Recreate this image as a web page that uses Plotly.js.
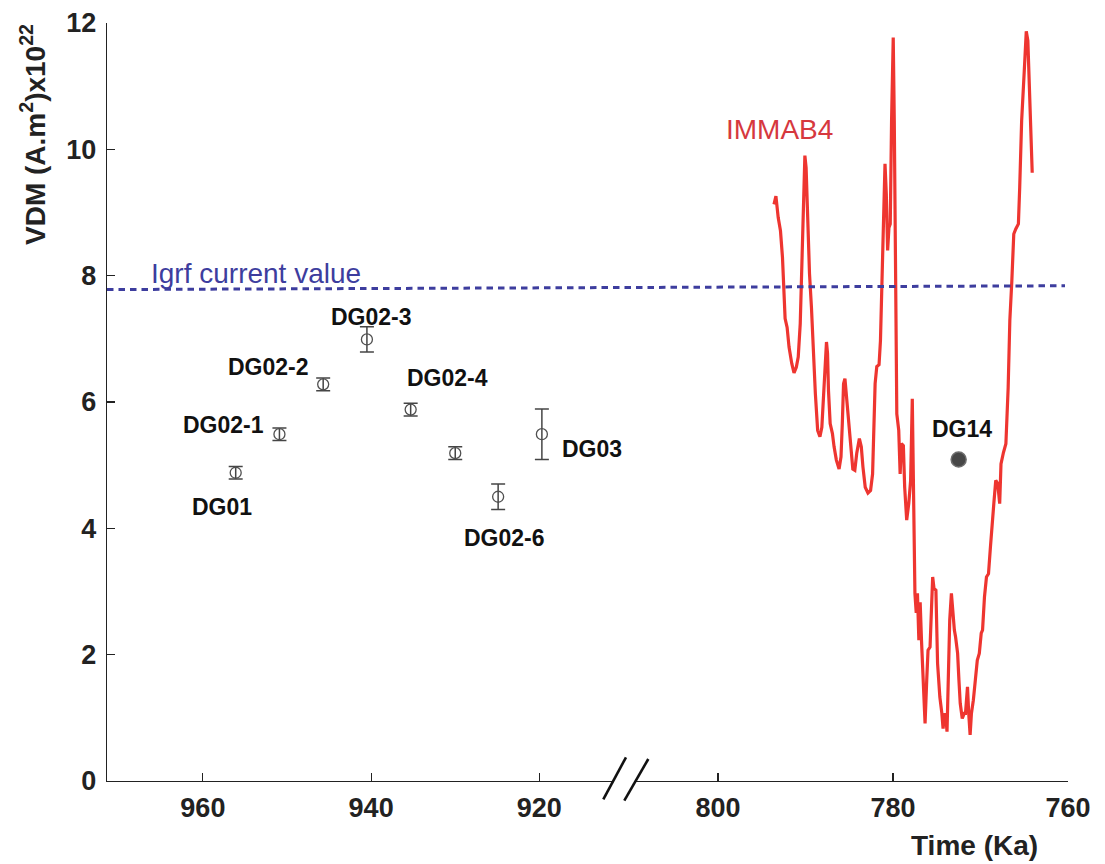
<!DOCTYPE html>
<html>
<head>
<meta charset="utf-8">
<script src="https://cdn.plot.ly/plotly-3.0.1.min.js"></script>
<style>html,body{margin:0;padding:0;background:#fff;}#chart{width:1105px;height:864px;}</style>
</head>
<body>
<div id="chart"></div>
<script>
// Paleointensity samples (left axis, 970-910 ka)
const sampleNames = ["DG01","DG02-1","DG02-2","DG02-3","DG02-4","DG02-5","DG02-6","DG03"];
const sampleAge = [956.1, 950.9, 945.7, 940.5, 935.3, 930.0, 924.9, 919.7];
const sampleVDM = [4.88, 5.49, 6.28, 6.99, 5.88, 5.19, 4.50, 5.49];
const sampleErr = [0.1, 0.1, 0.1, 0.2, 0.1, 0.1, 0.2, 0.4];

// DG14 (right axis)
const dg14Age = [772.5];
const dg14VDM = [5.09];

// IMMAB4 model curve (right axis, 810-760 ka)
const immabAge = [793.61,793.39,793.13,792.87,792.64,792.48,792.34,792.11,791.89,791.58,791.32,791.06,790.84,790.61,790.46,790.31,790.20,790.08,789.94,789.78,789.55,789.33,789.10,788.88,788.62,788.36,788.14,787.94,787.75,787.61,787.49,787.38,787.19,786.93,786.74,786.48,786.17,785.95,785.80,785.66,785.50,785.35,785.13,784.87,784.60,784.37,784.15,783.85,783.63,783.44,783.18,782.87,782.57,782.34,782.20,782.05,781.86,781.60,781.44,781.30,781.10,781.07,780.92,780.77,780.62,780.47,780.32,780.17,779.98,779.86,779.72,779.57,779.35,779.19,779.04,778.82,778.67,778.44,778.20,777.99,777.80,777.66,777.50,777.35,777.21,777.05,776.90,776.75,776.53,776.34,776.15,776.00,775.77,775.63,775.47,775.32,775.10,774.91,774.65,774.42,774.28,774.12,773.97,773.83,773.67,773.52,773.33,773.18,772.99,772.85,772.62,772.47,772.32,772.09,771.86,771.72,771.49,771.35,771.19,771.04,770.82,770.59,770.37,770.14,769.92,769.77,769.55,769.32,769.09,768.87,768.71,768.48,768.26,768.03,767.81,767.66,767.38,767.10,766.84,766.65,766.42,766.20,765.97,765.67,765.52,765.30,765.00,764.77,764.59,764.39,764.09];
const immabVDM = [9.13,9.26,8.92,8.71,8.29,7.82,7.32,7.18,6.87,6.61,6.46,6.55,6.71,7.24,8.03,9.08,9.71,9.90,9.71,8.82,8.03,7.50,6.71,6.13,5.55,5.45,5.60,6.13,6.71,6.95,6.77,6.18,5.66,5.50,5.29,5.08,4.94,5.13,5.66,6.29,6.37,6.13,5.66,5.23,4.94,4.92,5.19,5.42,5.29,4.97,4.65,4.56,4.60,4.86,5.66,6.29,6.56,6.59,6.97,7.76,8.55,8.98,9.77,9.29,8.40,8.76,8.82,10.45,11.77,10.45,8.34,5.81,5.55,4.86,5.34,5.31,4.65,4.13,4.40,4.76,6.05,4.76,2.97,2.66,2.97,2.23,2.83,2.23,1.33,0.91,1.60,2.07,2.12,2.65,3.23,3.05,3.02,1.86,1.33,1.07,0.83,1.07,1.02,0.78,1.60,2.55,2.97,2.65,2.39,2.28,2.02,1.60,1.23,0.99,1.07,1.07,1.49,1.07,0.73,1.07,1.28,1.60,1.91,2.02,2.34,2.39,2.91,3.23,3.28,3.70,4.07,4.39,4.76,4.71,4.39,5.02,5.20,5.34,6.23,7.29,7.92,8.66,8.74,8.82,9.40,10.45,11.24,11.87,11.72,10.71,9.63];

// IGRF present-day value (start, end)
const igrfValue = [7.78, 7.84];

// Axis ticks
const leftTicks = [960, 940, 920];
const rightTicks = [800, 780, 760];
const yTicks = [0, 2, 4, 6, 8, 10, 12];

// Sample label placement (age, VDM)
const labelText = ["DG02-3","DG02-2","DG02-1","DG01","DG02-4","DG03","DG02-6"];
const labelAge = [940.0, 952.15, 957.6, 957.7, 930.9, 913.8, 924.2];
const labelVDM = [7.35, 6.55, 5.63, 4.34, 6.38, 5.26, 3.84];

const FONT = "Liberation Sans, Arial, Helvetica, sans-serif";

const traces = [
  {
    x: sampleAge, y: sampleVDM, xaxis: 'x', yaxis: 'y', type: 'scatter', mode: 'markers',
    text: sampleNames, hoverinfo: 'text',
    marker: {symbol: 'circle-open', size: 11, color: '#505050', line: {width: 1.3, color: '#505050'}},
    error_y: {type: 'data', array: sampleErr, visible: true, color: '#454545', thickness: 1.5, width: 7},
    showlegend: false
  },
  {
    x: immabAge, y: immabVDM, xaxis: 'x2', yaxis: 'y', type: 'scatter', mode: 'lines',
    line: {color: '#ee3530', width: 3.2}, showlegend: false
  },
  {
    x: dg14Age, y: dg14VDM, xaxis: 'x2', yaxis: 'y', type: 'scatter', mode: 'markers',
    marker: {symbol: 'circle', size: 15, color: '#474747', line: {width: 1.5, color: '#6e6e6e'}},
    showlegend: false
  }
];

const W = 1105, H = 864, L = 107, R = 37, T = 23, B = 83;
const pw = W - L - R;
const ph = H - T - B;
const px2paper = p => (p - L) / pw;
const py2paper = p => (781 - p) / ph;

const axisCommon = {
  showline: true, linecolor: '#222', linewidth: 1.3, ticks: 'inside', ticklen: 8, tickwidth: 1.2,
  tickcolor: '#222', showgrid: false, zeroline: false,
  tickfont: {family: FONT, size: 27, color: '#222', weight: 'bold'}
};

const annotations = [];
for (let i = 0; i < labelText.length; i++) {
  annotations.push({x: labelAge[i], y: labelVDM[i], xref: 'x', yref: 'y', text: labelText[i], showarrow: false,
    xanchor: 'center', yanchor: 'middle', font: {family: FONT, size: 23, color: '#111', weight: 'bold'}});
}
annotations.push({x: 772.15, y: 5.57, xref: 'x2', yref: 'y', text: 'DG14', showarrow: false,
  xanchor: 'center', yanchor: 'middle', font: {family: FONT, size: 23, color: '#111', weight: 'bold'}});
annotations.push({x: 792.95, y: 10.32, xref: 'x2', yref: 'y', text: 'IMMAB4', showarrow: false,
  xanchor: 'center', yanchor: 'middle', font: {family: FONT, size: 28, color: '#d6383e'}});
annotations.push({x: 953.7, y: 8.03, xref: 'x', yref: 'y', text: 'Igrf current value', showarrow: false,
  xanchor: 'center', yanchor: 'middle', font: {family: FONT, size: 28, color: '#3d3d9e'}});
annotations.push({x: px2paper(974), y: py2paper(845), xref: 'paper', yref: 'paper', text: 'Time (Ka)',
  showarrow: false, xanchor: 'center', yanchor: 'middle', font: {family: FONT, size: 28, color: '#222', weight: 'bold'}});
annotations.push({x: px2paper(33), y: py2paper(135), xref: 'paper', yref: 'paper',
  text: 'VDM (A.m<sup>2</sup>)x10<sup>22</sup>', textangle: -90, showarrow: false,
  xanchor: 'center', yanchor: 'middle', font: {family: FONT, size: 28, color: '#222', weight: 'bold'}});

const shapes = [
  {type: 'line', xref: 'paper', yref: 'y', x0: 0, x1: px2paper(1065), y0: igrfValue[0], y1: igrfValue[1],
   line: {color: '#3d3d9e', width: 3, dash: '6.5px,5px'}},
  // axis break marks
  {type: 'line', xref: 'paper', yref: 'paper', x0: px2paper(603.3), x1: px2paper(626), y0: py2paper(799.3), y1: py2paper(757.3),
   line: {color: '#111', width: 2.6}},
  {type: 'line', xref: 'paper', yref: 'paper', x0: px2paper(624.3), x1: px2paper(648.3), y0: py2paper(800.7), y1: py2paper(759),
   line: {color: '#111', width: 2.6}}
];

const layout = {
  width: W, height: H,
  margin: {l: L, r: R, t: T, b: B, pad: 0},
  paper_bgcolor: '#fff', plot_bgcolor: 'rgba(0,0,0,0)',
  showlegend: false,
  xaxis: Object.assign({}, axisCommon, {domain: [0, px2paper(611.7)], range: [971.4, 911.4], tickvals: leftTicks,
    anchor: 'y', ticklabelstandoff: 2}),
  xaxis2: Object.assign({}, axisCommon, {domain: [px2paper(635), 1], range: [809.5, 760], tickvals: rightTicks,
    anchor: 'y', ticklabelstandoff: 2}),
  yaxis: Object.assign({}, axisCommon, {range: [0, 12], tickvals: yTicks, ticklabelstandoff: 4}),
  annotations: annotations,
  shapes: shapes
};

Plotly.newPlot('chart', traces, layout, {staticPlot: true, displayModeBar: false});
</script>
</body>
</html>
